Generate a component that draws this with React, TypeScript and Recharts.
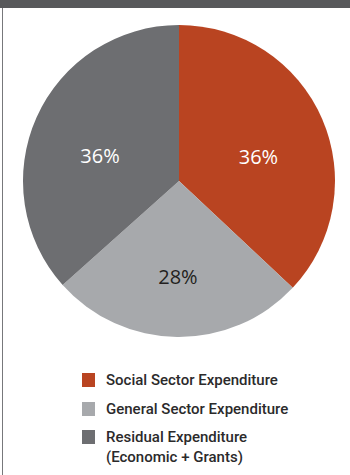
import React from "react";
import { PieChart, Pie, Cell, Legend } from "recharts";

const categories = ["Social Sector Expenditure", "General Sector Expenditure", "Residual Expenditure"];
const legendSubLines = ["", "", "(Economic + Grants)"];
const shares = [37, 26.4, 36.6];
const shareLabels = ["36%", "28%", "36%"];
const colors = ["#b94421", "#a7a9ac", "#6d6e71"];
const labelColors = ["#ffffff", "#231f20", "#ffffff"];

const data = categories.map((name, i) => ({
  name,
  value: shares[i],
  label: shareLabels[i],
  sub: legendSubLines[i],
  color: colors[i],
  labelColor: labelColors[i],
}));

const RAD = Math.PI / 180;

const renderLabel = (props: any) => {
  const { cx, cy, midAngle, outerRadius, index } = props;
  const t = (90 - midAngle) * RAD; // clockwise from top
  const s = Math.sin(t);
  const c = Math.cos(t);
  const x = cx + outerRadius * 0.555 * s;
  const y = cy - outerRadius * 0.615 * c * Math.sqrt(Math.abs(c));
  return (
    <text
      x={x}
      y={y}
      fill={data[index].labelColor}
      textAnchor="middle"
      dominantBaseline="central"
      fontFamily="'Open Sans', sans-serif"
      fontSize={20}
    >
      {data[index].label}
    </text>
  );
};

const LegendContent = () => (
  <div style={{ fontFamily: "Roboto, sans-serif", fontWeight: 500, fontSize: 15, color: "#2b2a2b" }}>
    {data.map((d, i) => (
      <div key={d.name} style={{ display: "flex", alignItems: "flex-start", height: 28.5 }}>
        <div style={{ width: 13, height: 14, background: d.color, marginTop: 3, marginRight: 11, flexShrink: 0 }} />
        <div style={{ lineHeight: "20px", textAlign: "left" }}>
          <div>{d.name}</div>
          {d.sub ? <div>{d.sub}</div> : null}
        </div>
      </div>
    ))}
  </div>
);

export default function App() {
  return (
    <div style={{ position: "absolute", left: 0, top: 0, width: 350, height: 475, background: "#ffffff", overflow: "hidden" }}>
      <div style={{ position: "absolute", left: 0, top: 0, width: 350, height: 8, background: "#58595b" }} />
      <div style={{ position: "absolute", left: 2, top: 8, width: 1, height: 467, background: "#77787b" }} />
      <div style={{ position: "absolute", left: 0, top: 0 }}>
        <PieChart width={350} height={475} margin={{ top: 0, right: 0, bottom: 0, left: 0 }}>
          <Pie
            data={data}
            dataKey="value"
            nameKey="name"
            cx={179}
            cy={181}
            outerRadius={156}
            startAngle={90}
            endAngle={-270}
            stroke="none"
            label={renderLabel}
            labelLine={false}
            isAnimationActive={false}
          >
            {data.map((d) => (
              <Cell key={d.name} fill={d.color} />
            ))}
          </Pie>
          <Legend
            content={<LegendContent />}
            wrapperStyle={{ position: "absolute", left: 82, top: 370, width: 250 }}
          />
        </PieChart>
      </div>
    </div>
  );
}
